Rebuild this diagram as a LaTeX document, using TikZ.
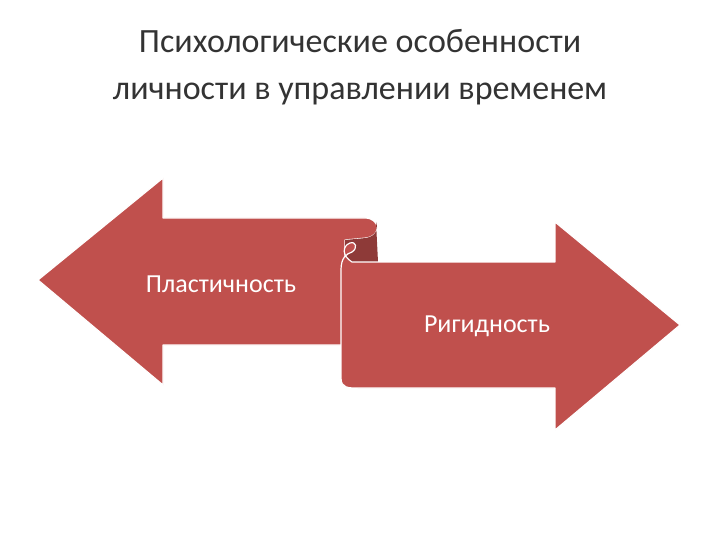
\documentclass[tikz,border=0pt]{standalone}
\usepackage{fontspec}
\setmainfont{Carlito}
\definecolor{ared}{HTML}{C0504D}
\definecolor{adark}{HTML}{8E3A38}
\begin{document}
\begin{tikzpicture}[x=1pt,y=-1pt,
  arrowshape/.style={fill=ared,draw=white,line width=1.2pt,line join=round},
  lbl/.style={text=white,font=\fontsize{26}{30}\selectfont,inner sep=0pt},
  ttl/.style={font=\fontsize{34}{47}\selectfont,align=center,text=black!80}]
\useasboundingbox (0,0) rectangle (720,540);
\node[ttl] (title) at (360,67) {Психологические особенности\\личности в управлении временем};
% left arrow
\path[arrowshape] (38,280) -- (163,178) -- (163,218) -- (365,218)
  .. controls (380,218) and (382,236) .. (366,238) -- (345,240) -- (345,345) -- (163,345) -- (163,385) -- cycle;
% dark fold
\path[fill=adark] (345,240) -- (366,238) .. controls (378,236) and (378,226) .. (376,222) -- (378,262) -- (345,262) -- cycle;
% right arrow
\path[arrowshape] (680,325) -- (555,222) -- (555,262) -- (352,262)
  .. controls (342,256) and (342,246) .. (350,243) .. controls (356,241) and (358,248) .. (352,252)
  .. controls (346,254) and (341,258) .. (341,270) -- (341,378)
  .. controls (341,388) and (348,388) .. (358,388) -- (555,388) -- (555,430) -- cycle;
\node[lbl] (a) at (221,284) {Пластичность};
\node[lbl] (b) at (487,326) {Ригидность};
\end{tikzpicture}
\end{document}
